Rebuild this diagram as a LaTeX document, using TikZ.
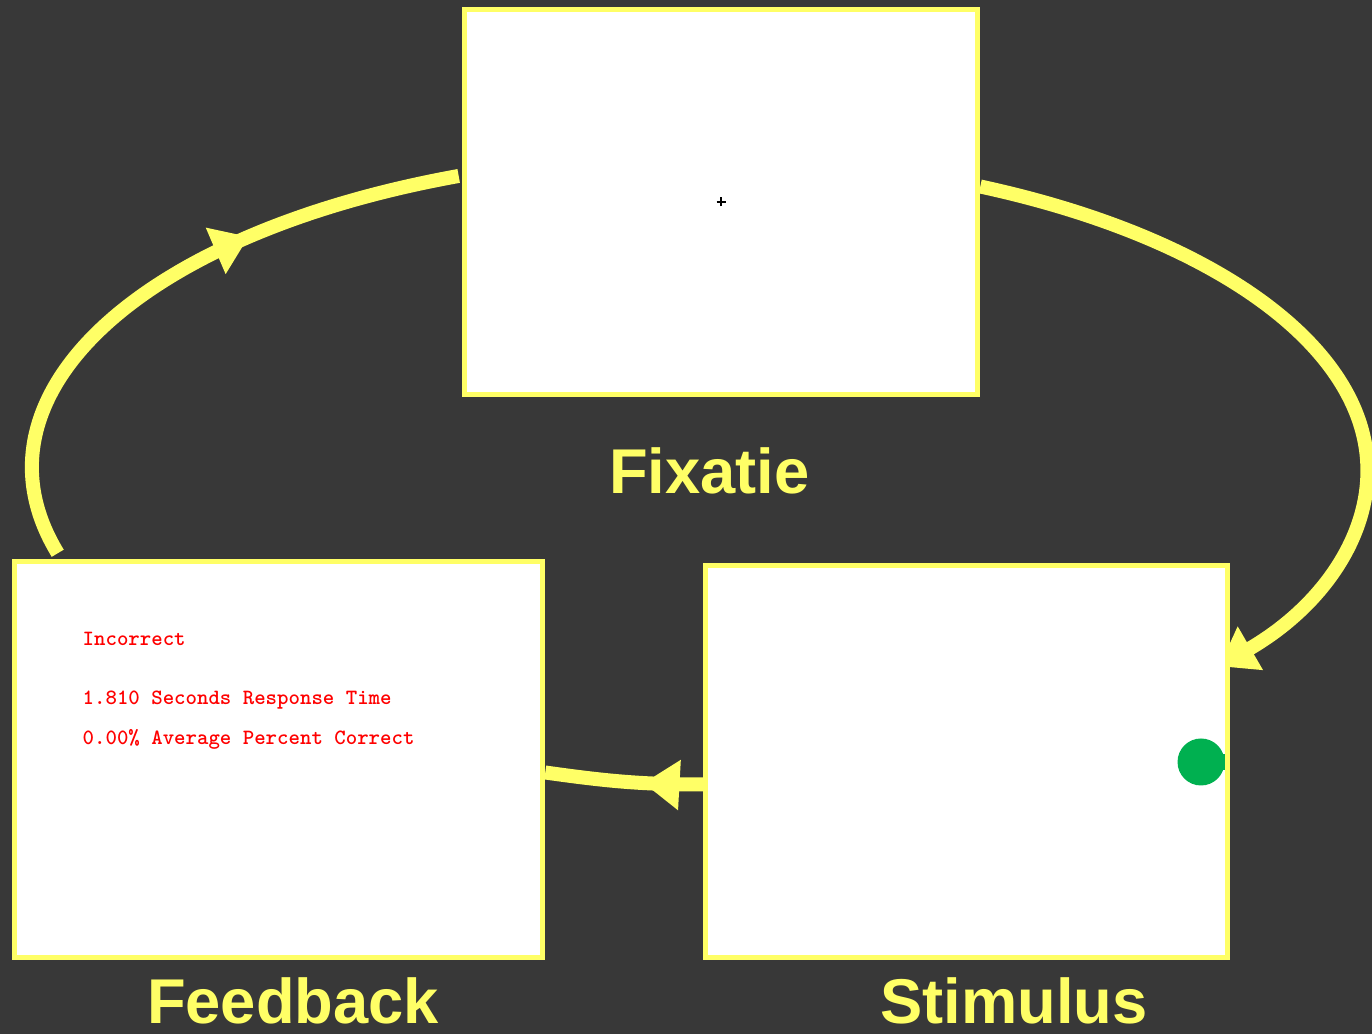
\documentclass[tikz,border=0pt]{standalone}
\usepackage{fontspec}
\newfontfamily\labelfont{Liberation Sans}
\usetikzlibrary{arrows.meta,decorations.markings,backgrounds}
\definecolor{slate}{RGB}{56,56,56}
\definecolor{lemon}{RGB}{255,255,102}
\definecolor{go}{RGB}{0,176,80}
\definecolor{alarm}{RGB}{255,0,0}

\tikzset{
  screen/.style={draw=lemon,fill=white,line width=0.055cm,inner sep=0pt},
  loopline/.style={lemon,line width=0.14cm},
  headtip/.style={-{Triangle[length=0.36cm,width=0.48cm]}},
  midtip/.style={postaction={decorate},decoration={markings,
      mark=at position #1 with {\arrow{Triangle[length=0.36cm,width=0.48cm]}}}},
  steplabel/.style={font=\labelfont\bfseries\fontsize{18}{21}\selectfont,text=lemon,anchor=base,inner sep=0pt},
  fbtext/.style={font=\ttfamily\bfseries\fontsize{6.2}{7}\selectfont,text=alarm,anchor=base west,inner sep=0pt}
}

\begin{document}
\begin{tikzpicture}[x=1cm,y=1cm]
    \useasboundingbox (0,0) rectangle (13.72,10.34);

    % the three screens
    \node[screen,minimum width=5.13cm,minimum height=3.85cm] (fix) at (7.21,8.32) {};
    \node[screen,minimum width=5.28cm,minimum height=3.96cm] (feed) at (2.785,2.745) {};
    \node[screen,minimum width=5.22cm,minimum height=3.92cm] (stim) at (9.665,2.725) {};

    % loop between the screens, kept behind them
    \begin{scope}[on background layer]
      \fill[slate] (0,0) rectangle (13.72,10.34);
      \draw[loopline,headtip] ([yshift=1.55mm]fix.east)
        arc[start angle=65.3,end angle=-39,x radius=6.65,y radius=3.12];
      \draw[loopline,midtip=0.375] ([yshift=-2.3mm]stim.west) to[out=180,in=-8] ([yshift=-1.3mm]feed.east);
      \draw[loopline,midtip=0.66] ([shift={(0.46,0.055)}]feed.north west)
        arc[start angle=196,end angle=111,x radius=6.65,y radius=3.12];
    \end{scope}

    % screen contents
    \draw[black,line width=0.4pt] ([xshift=-0.045cm]fix.center) -- ([xshift=0.045cm]fix.center)
      ([yshift=-0.045cm]fix.center) -- ([yshift=0.045cm]fix.center);
    \foreach \i/\y/\txt in {
      1/3.88/Incorrect,
      2/3.29/{1.810 Seconds Response Time},
      3/2.89/{0.00\% Average Percent Correct}}{
      \node[fbtext] (fbline\i) at (0.82,\y) {\txt};
    }
    \fill[go] (12.01,2.72) circle (0.235);
    \fill[go] (12.10,2.64) rectangle (12.25,2.80);

    % step names
    \node[steplabel] (fixlab) at (7.095,5.40) {Fixatie};
    \node[steplabel] (feedlab) at (2.93,0.10) {Feedback};
    \node[steplabel] (stimlab) at (10.14,0.10) {Stimulus};
  \end{tikzpicture}
\end{document}
